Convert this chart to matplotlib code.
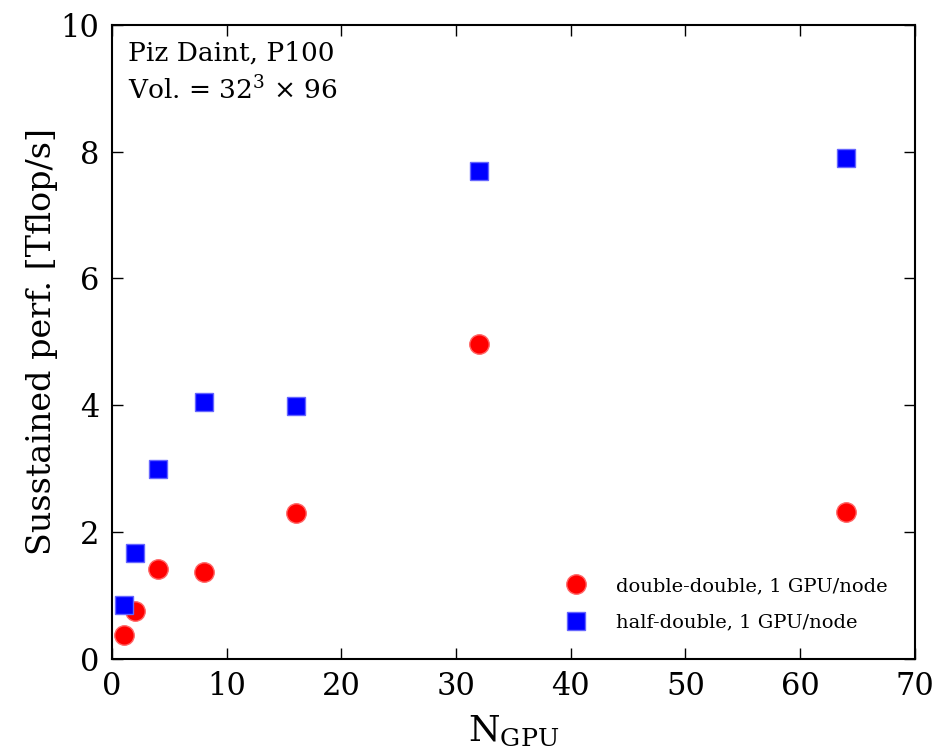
import matplotlib
matplotlib.use("Agg")
import matplotlib.pyplot as plt

plt.rcParams['font.family'] = ['DejaVu Serif']
plt.rcParams['mathtext.fontset'] = 'dejavuserif'

n_gpu = [1, 2, 4, 8, 16, 32, 64]
double_double = [0.38, 0.75, 1.42, 1.37, 2.30, 4.97, 2.31]
half_double = [0.85, 1.67, 3.00, 4.05, 3.98, 7.70, 7.90]

fig = plt.figure(figsize=(9.42, 7.52), dpi=100)
ax = fig.add_axes([0.119, 0.124, 0.852, 0.843])

ax.plot(n_gpu, double_double, 'o', color='red', markeredgecolor='#ff6666',
        markeredgewidth=1.0, markersize=14, label='double-double, 1 GPU/node')
ax.plot(n_gpu, half_double, 's', color='blue', markeredgecolor='#6666ff',
        markeredgewidth=1.0, markersize=13, label='half-double, 1 GPU/node')

ax.set_xlim(0, 70)
ax.set_ylim(0, 10)
ax.set_xticks(range(0, 71, 10))
ax.set_yticks(range(0, 11, 2))
ax.tick_params(direction='in', top=True, right=True, length=8, width=1,
               labelsize=22, pad=9)
for s in ax.spines.values():
    s.set_linewidth(1.5)

ax.set_xlabel(r'N$_{\mathrm{GPU}}$', fontsize=26, labelpad=8)
ax.set_ylabel('Susstained perf. [Tflop/s]', fontsize=24, labelpad=2)

ax.text(0.02, 0.975, 'Piz Daint, P100\nVol. = 32$^3$ × 96', transform=ax.transAxes,
        ha='left', va='top', fontsize=19, linespacing=1.45)

leg = ax.legend(loc='lower right', frameon=False, numpoints=1, fontsize=14,
                handlelength=1.0, handletextpad=1.55, borderaxespad=1.0,
                labelspacing=0.95)

fig.savefig('out.png', dpi=100)
